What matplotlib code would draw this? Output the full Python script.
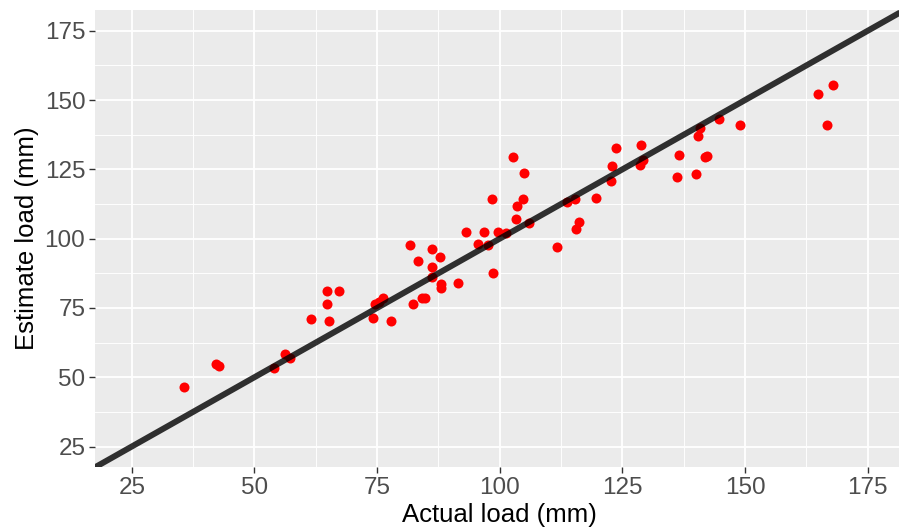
import numpy as np
import matplotlib.pyplot as plt
from matplotlib.ticker import MultipleLocator

plt.rcParams['font.family'] = ['Liberation Sans', 'DejaVu Sans']

# Actual vs estimated load (mm)
actual = [35.6, 42.1, 42.7, 53.9, 56.2, 57.3, 61.6, 64.7, 64.7, 65.1,
          67.3, 74.2, 74.6, 75.4, 76.3, 77.8, 81.7, 82.3, 83.3, 84.1,
          84.7, 86.1, 86.1, 86.1, 87.8, 88.0, 88.0, 91.5, 93.1, 95.5,
          96.8, 98.5, 98.6, 97.7, 99.6, 101.2, 102.6, 103.3, 103.6, 104.7,
          104.9, 106.0, 111.7, 113.8, 115.3, 115.5, 116.2, 119.6, 122.6, 122.9,
          123.6, 128.7, 128.5, 129.3, 136.2, 136.5, 139.9, 140.5, 140.9, 141.9,
          142.3, 144.7, 149.0, 164.9, 166.7, 168.0]
estimate = [46.5, 54.9, 54.0, 53.4, 58.3, 57.0, 71.0, 81.2, 76.4, 70.3,
            81.2, 71.4, 76.4, 77.1, 78.5, 70.4, 97.7, 76.5, 92.0, 78.7,
            78.7, 96.4, 89.6, 86.1, 93.3, 83.6, 82.2, 84.1, 102.5, 98.2,
            102.5, 114.2, 87.7, 97.7, 102.5, 102.0, 129.3, 107.0, 111.8, 114.2,
            123.6, 105.7, 97.0, 113.3, 114.2, 103.5, 106.0, 114.6, 120.9, 126.3,
            132.7, 133.9, 126.6, 128.5, 122.2, 130.1, 123.5, 136.9, 139.9, 129.3,
            129.7, 143.1, 141.1, 152.1, 141.1, 155.3]

ticks = [25, 50, 75, 100, 125, 150, 175]
lims = (17.5, 182.5)

fig = plt.figure(figsize=(8.99, 5.30), dpi=100)
# panel runs a bit past the right edge of the picture
ax = fig.add_axes([95 / 899, 62.7 / 530, 809.5 / 899, 457.3 / 530])

ax.scatter(actual, estimate, s=52, color='red', linewidths=0, zorder=3)

# 1:1 line
x = np.array(lims)
ax.plot(x, x, color='black', alpha=0.8, linewidth=4.3, zorder=4,
        solid_capstyle='butt')

ax.set_xlim(lims)
ax.set_ylim(lims)
ax.set_xticks(ticks)
ax.set_yticks(ticks)
ax.xaxis.set_minor_locator(MultipleLocator(12.5))
ax.yaxis.set_minor_locator(MultipleLocator(12.5))

# ggplot-ish grey panel
ax.set_facecolor('#EBEBEB')
ax.grid(which='major', color='white', linewidth=1.3)
ax.grid(which='minor', color='white', linewidth=0.65)
ax.set_axisbelow(True)
for s in ax.spines.values():
    s.set_visible(False)

ax.tick_params(which='major', length=4, width=1, color='#333333',
               labelsize=17.5, labelcolor='#4D4D4D', pad=3)
ax.tick_params(which='minor', length=0)

ax.set_xlabel('Actual load (mm)', fontsize=18.5, labelpad=3)
ax.set_ylabel('Estimate load (mm)', fontsize=18.5, labelpad=4)

fig.savefig('out.png', dpi=100)
